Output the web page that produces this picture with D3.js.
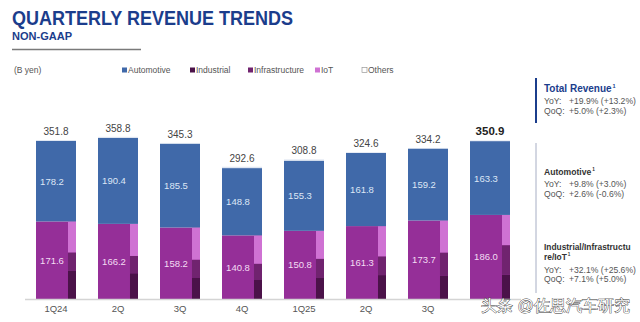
<!DOCTYPE html>
<html>
<head>
<meta charset="utf-8">
<script src="https://cdn.jsdelivr.net/npm/d3@7"></script>
<style>
  body { margin: 0; background: #fff; }
  svg text { font-family: "Liberation Sans", Arial, sans-serif; }
</style>
</head>
<body>
<svg width="640" height="322"></svg>
<script>
// quarter labels and values (B yen)
var quarters = ["1Q24", "2Q", "3Q", "4Q", "1Q25", "2Q", "3Q", "4Q"];
var totals = [351.8, 358.8, 345.3, 292.6, 308.8, 324.6, 334.2, 350.9];
var automotive = [178.2, 190.4, 185.5, 148.8, 155.3, 161.8, 159.2, 163.3];
var iiot = [171.6, 166.2, 158.2, 140.8, 150.8, 161.3, 173.7, 186.0];
var others = [2.0, 2.2, 1.6, 3.0, 2.7, 1.5, 1.3, 1.6];
// breakdown of Industrial/Infrastructure/IoT (read from the thin strip)
var industrial = [62.5, 56.9, 47.5, 43.0, 46.4, 52.8, 51.7, 53.6];
var infrastructure = [40.5, 38.3, 39.5, 35.0, 42.5, 41.5, 51.0, 65.5];
var iot = [68.6, 71.0, 71.2, 62.8, 61.9, 67.0, 71.0, 66.9];

var legendNames = ["Automotive", "Industrial", "Infrastructure", "IoT", "Others"];

var colors = {
  Automotive: "#4069a9",
  Main: "#952f98",
  Industrial: "#4b1249",
  Infrastructure: "#70236f",
  IoT: "#cf72d3",
  Others: "#dfe6f2"
};

var svg = d3.select("svg"),
    width = +svg.attr("width"),
    height = +svg.attr("height");

/*
 * Title block
 */
svg.append("text")
    .attr("x", 12).attr("y", 25)
    .attr("font-size", 21).attr("font-weight", "bold")
    .attr("fill", "#1b3d8c")
    .attr("textLength", 281).attr("lengthAdjust", "spacingAndGlyphs")
    .text("QUARTERLY REVENUE TRENDS");
svg.append("text")
    .attr("x", 12).attr("y", 40)
    .attr("font-size", 11).attr("font-weight", "bold")
    .attr("fill", "#1b3d8c")
    .attr("textLength", 60).attr("lengthAdjust", "spacingAndGlyphs")
    .text("NON-GAAP");
svg.append("line")
    .attr("x1", 12).attr("x2", 141).attr("y1", 49.5).attr("y2", 49.5)
    .attr("stroke", "#7a7a7a").attr("stroke-width", 1.5);

/*
 * Unit and legend
 */
svg.append("text")
    .attr("x", 14).attr("y", 73)
    .attr("font-size", 8.5).attr("fill", "#555")
    .text("(B yen)");

var legendX = [122, 190, 248, 315, 362];
var legend = svg.append("g").selectAll("g")
    .data(legendNames)
  .enter().append("g")
    .attr("transform", function(d, i) { return "translate(" + legendX[i] + ",70)"; });
legend.append("rect")
    .attr("x", 0).attr("y", -2.5).attr("width", 5).attr("height", 5)
    .attr("fill", function(d) { return d == "Others" ? "#fff" : colors[d]; })
    .attr("stroke", function(d) { return d == "Others" ? "#888" : "none"; })
    .attr("stroke-width", 0.6);
legend.append("text")
    .attr("x", 6).attr("y", 3)
    .attr("font-size", 8.5).attr("fill", "#555")
    .text(function(d) { return d; });

/*
 * Scales
 */
var x = d3.scaleBand()
    .domain(d3.range(quarters.length))
    .range([25, 521])
    .paddingInner(0.355)
    .paddingOuter(0.1775);
var y = d3.scaleLinear()
    .domain([0, 400])
    .range([299, 299 - 400 * 0.452]);

var bw = x.bandwidth(),
    stripW = 8;

var data = quarters.map(function(q, i) {
  return { i: i, q: q, total: totals[i], auto: automotive[i], iiot: iiot[i], others: others[i],
           ind: industrial[i], infra: infrastructure[i], iot: iot[i] };
});

var bars = svg.append("g").selectAll("g")
    .data(data)
  .enter().append("g")
    .attr("transform", function(d) { return "translate(" + x(d.i) + ",0)"; });

// main Industrial/Infrastructure/IoT block
bars.append("rect")
    .attr("x", 0).attr("width", bw)
    .attr("y", function(d) { return y(d.iiot); })
    .attr("height", function(d) { return y(0) - y(d.iiot); })
    .attr("fill", colors.Main);

// breakdown strip on the right side
var strip = [["ind", "Industrial"], ["infra", "Infrastructure"], ["iot", "IoT"]];
bars.each(function(d) {
  var g = d3.select(this);
  var k = d.iiot / (d.ind + d.infra + d.iot);
  var acc = 0;
  strip.forEach(function(s) {
    var v = d[s[0]] * k;
    g.append("rect")
        .attr("x", bw - stripW).attr("width", stripW)
        .attr("y", y(acc + v))
        .attr("height", y(acc) - y(acc + v))
        .attr("fill", colors[s[1]]);
    acc += v;
  });
});

// automotive
bars.append("rect")
    .attr("x", 0).attr("width", bw)
    .attr("y", function(d) { return y(d.iiot + d.auto); })
    .attr("height", function(d) { return y(d.iiot) - y(d.iiot + d.auto); })
    .attr("fill", colors.Automotive);

// others
bars.append("rect")
    .attr("x", 0).attr("width", bw)
    .attr("y", function(d) { return y(d.total); })
    .attr("height", function(d) { return y(d.iiot + d.auto) - y(d.total); })
    .attr("fill", colors.Others);

// segment labels
bars.append("text")
    .attr("x", (bw - stripW) / 2)
    .attr("y", function(d) { return (y(d.iiot) + y(d.iiot + d.auto)) / 2 + 3.5; })
    .attr("text-anchor", "middle")
    .attr("font-size", 9.5).attr("fill", "#dde7f6")
    .text(function(d) { return d.auto.toFixed(1); });
bars.append("text")
    .attr("x", (bw - stripW) / 2)
    .attr("y", function(d) { return (y(0) + y(d.iiot)) / 2 + 3.5; })
    .attr("text-anchor", "middle")
    .attr("font-size", 9.5).attr("fill", "#f3dcf3")
    .text(function(d) { return d.iiot.toFixed(1); });

// totals
bars.append("text")
    .attr("x", bw / 2)
    .attr("y", function(d) { return y(d.total) - 5; })
    .attr("text-anchor", "middle")
    .attr("font-size", function(d) { return d.i == quarters.length - 1 ? 11.5 : 10; })
    .attr("font-weight", function(d) { return d.i == quarters.length - 1 ? "bold" : "normal"; })
    .attr("fill", function(d) { return d.i == quarters.length - 1 ? "#222" : "#444"; })
    .text(function(d) { return d.total.toFixed(1); });

/*
 * Baseline and category axis
 */
svg.append("line")
    .attr("x1", 25).attr("x2", 521).attr("y1", y(0) + 0.5).attr("y2", y(0) + 0.5)
    .attr("stroke", "#d4d4d4").attr("stroke-width", 1.5);

// last label sits under the watermark in the reference, so it is not shown
var xAxis = svg.append("g")
    .attr("transform", "translate(0," + (y(0) + 3) + ")")
    .call(d3.axisBottom(x).tickSize(0).tickFormat(function(i) {
      return i == quarters.length - 1 ? "" : quarters[i];
    }));
xAxis.select(".domain").remove();
xAxis.selectAll("text")
    .attr("font-family", "Liberation Sans, Arial, sans-serif")
    .attr("font-size", 9.5).attr("fill", "#555");

/*
 * Right side commentary
 */
var note = svg.append("g").attr("transform", "translate(536,0)");
note.append("line")
    .attr("x1", 0).attr("x2", 0).attr("y1", 78).attr("y2", 123)
    .attr("stroke", "#1b3d8c").attr("stroke-width", 2);
note.append("line")
    .attr("x1", 0).attr("x2", 0).attr("y1", 143).attr("y2", 293)
    .attr("stroke", "#a7aec4").attr("stroke-width", 1);

function heading(txt, yy, col, size) {
  var t = note.append("text").attr("x", 8).attr("y", yy)
      .attr("font-size", size).attr("font-weight", "bold").attr("fill", col);
  t.append("tspan").text(txt);
  t.append("tspan").attr("font-size", size * 0.55).attr("dx", 1).attr("dy", -4).text("1");
}
function stat(label, val, yy) {
  note.append("text").attr("x", 8).attr("y", yy)
      .attr("font-size", 8.6).attr("fill", "#555").text(label);
  note.append("text").attr("x", 33).attr("y", yy)
      .attr("font-size", 8.6).attr("fill", "#555").text(val);
}

heading("Total Revenue", 91.5, "#1b3d8c", 10);
stat("YoY:", "+19.9% (+13.2%)", 104);
stat("QoQ:", "+5.0% (+2.3%)", 113.5);

heading("Automotive", 175, "#333", 8.6);
stat("YoY:", "+9.8% (+3.0%)", 186.5);
stat("QoQ:", "+2.6% (-0.6%)", 196.5);

note.append("text").attr("x", 8).attr("y", 249.5)
    .attr("font-size", 8.4).attr("font-weight", "bold").attr("fill", "#333")
    .text("Industrial/Infrastructu");
heading("re/IoT", 260, "#333", 8.4);
stat("YoY:", "+32.1% (+25.6%)", 272.5);
stat("QoQ:", "+7.1% (+5.0%)", 282);

/*
 * Watermark
 */
svg.append("text")
    .attr("x", 481).attr("y", 311)
    .attr("font-family", "Noto Sans CJK SC")
    .attr("font-size", 16)
    .attr("fill", "#fff").attr("stroke", "#333").attr("stroke-width", 0.8)
    .attr("paint-order", "stroke")
    .text("头条 @佐思汽车研究");
</script>
</body>
</html>
